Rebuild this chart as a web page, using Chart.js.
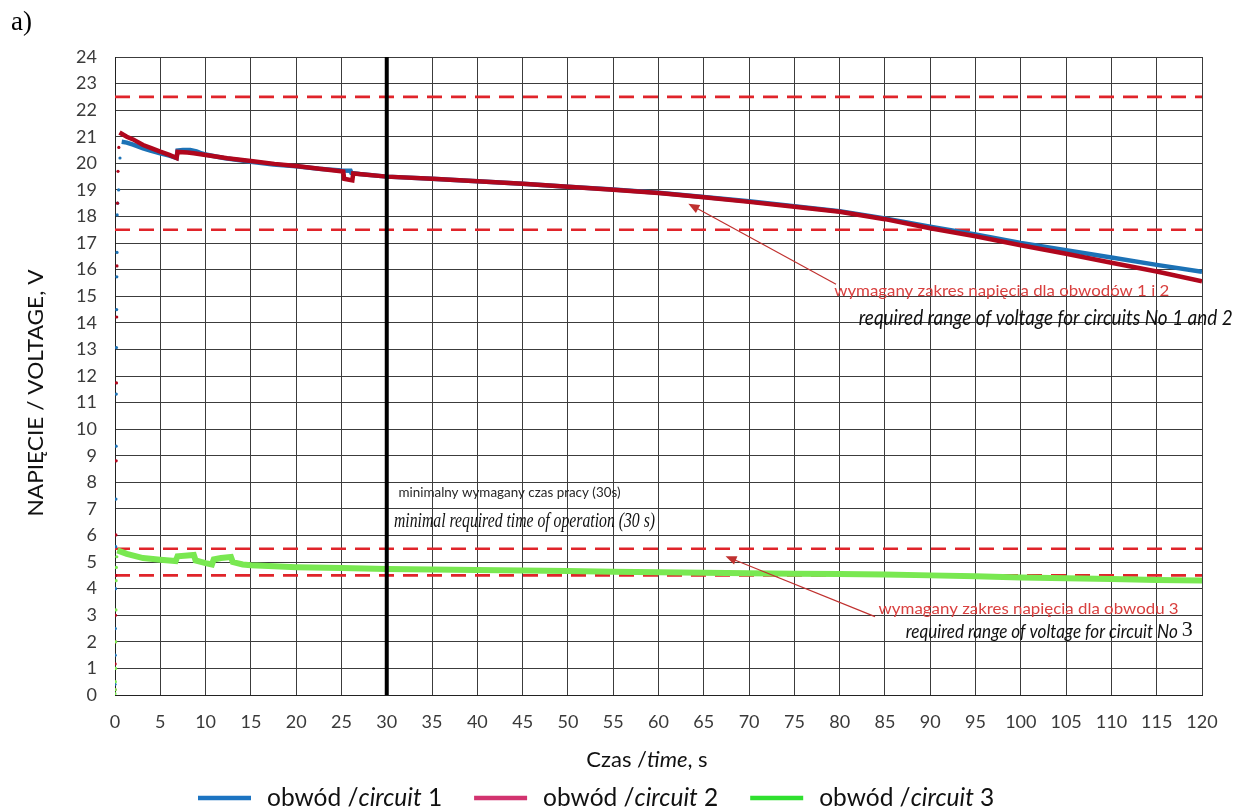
<!DOCTYPE html>
<html>
<head>
<meta charset="utf-8">
<script src="https://cdn.jsdelivr.net/npm/chart.js@4.4.1/dist/chart.umd.min.js"></script>
<style>
  html, body { margin: 0; padding: 0; background: #ffffff; }
  canvas { display: block; }
</style>
</head>
<body>
<canvas id="chart" width="1244" height="812"></canvas>
<script>
// ---------- measured series ----------
// circuit 1: fast start-up samples, then the discharge curve
const c1RiseTime = [0, 0.02, 0.04, 0.06, 0.08, 0.1, 0.12, 0.14, 0.16, 0.18, 0.2, 0.22, 0.24, 0.3, 0.4, 0.55];
const c1RiseVolt = [0.4, 1.5, 2.5, 4.0, 5.58, 7.37, 9.36, 11.32, 13.07, 14.5, 15.73, 16.65, 18.06, 18.5, 19.0, 20.2];
const c1Time = [0.74, 1.3, 2, 3.1, 4, 5, 6, 6.8, 6.9, 7.5, 8.3, 9, 9.6, 10, 12, 15, 17.5, 20, 22.5, 25, 26, 26.1, 27, 30,
                35, 40, 45, 50, 55, 60, 65, 70, 75, 80, 85, 90, 95, 100, 105, 110, 115, 120];
const c1Volt = [20.81, 20.78, 20.70, 20.56, 20.47, 20.38, 20.29, 20.2, 20.48, 20.5, 20.5, 20.45, 20.37, 20.33, 20.2, 20.06, 19.96, 19.89, 19.8, 19.73, 19.72, 19.64, 19.6, 19.5,
                19.42, 19.33, 19.23, 19.12, 19.02, 18.89, 18.73, 18.57, 18.39, 18.2, 17.93, 17.62, 17.32, 17.0, 16.73, 16.46, 16.18, 15.92];

// circuit 2
const c2RiseTime = [0, 0.02, 0.04, 0.06, 0.08, 0.1, 0.13, 0.16, 0.19, 0.22, 0.27, 0.33, 0.42];
const c2RiseVolt = [0.2, 1.17, 2.0, 3.0, 4.5, 6.02, 8.81, 11.74, 14.22, 16.14, 18.5, 19.7, 20.6];
const c2Time = [0.5, 1.3, 2, 3.1, 4, 5, 6, 6.8, 6.9, 8, 8.7, 10, 12.4, 15, 17.6, 20, 22.8, 25.2, 25.3, 26.2, 26.3, 27.2, 30,
                35, 40, 45, 50, 55, 60, 65, 70, 75, 80, 85, 90, 95, 100, 105, 110, 115, 120];
const c2Volt = [21.16, 21.0, 20.9, 20.69, 20.57, 20.44, 20.32, 20.2, 20.43, 20.41, 20.38, 20.31, 20.19, 20.09, 19.98, 19.9, 19.79, 19.69, 19.42, 19.36, 19.62, 19.59, 19.5,
                19.42, 19.33, 19.23, 19.12, 19.01, 18.88, 18.72, 18.55, 18.37, 18.18, 17.9, 17.56, 17.26, 16.92, 16.6, 16.26, 15.93, 15.56];

// circuit 3
const c3RiseTime = [0, 0.02, 0.04, 0.06, 0.08, 0.1, 0.12, 0.15, 0.2];
const c3RiseVolt = [0.05, 0.2, 0.5, 1.0, 2.0, 3.2, 4.3, 4.8, 5.2];
const c3Time = [0.26, 1.3, 3.1, 5, 6.7, 6.9, 8, 8.7, 8.9, 10, 10.7, 10.9, 11.7, 12.8, 13, 14.1, 15, 17.6, 20, 25, 30,
                35, 40, 45, 50, 55, 60, 65, 70, 75, 80, 85, 90, 95, 100, 105, 110, 115, 120];
const c3Volt = [5.44, 5.31, 5.15, 5.09, 5.04, 5.22, 5.25, 5.27, 5.06, 4.96, 4.91, 5.1, 5.15, 5.19, 5.0, 4.91, 4.88, 4.84, 4.81, 4.78, 4.74,
                4.72, 4.7, 4.68, 4.66, 4.64, 4.62, 4.6, 4.58, 4.56, 4.55, 4.53, 4.5, 4.47, 4.42, 4.39, 4.36, 4.33, 4.31];

// required voltage band limits (circuits 1-2 and circuit 3) and minimum operating time
const bandLimits = [22.5, 17.5, 5.5, 4.5];
const minOperatingTime = 30;

// axis ticks
const timeTicks = [0, 5, 10, 15, 20, 25, 30, 35, 40, 45, 50, 55, 60, 65, 70, 75, 80, 85, 90, 95, 100, 105, 110, 115, 120];
const voltTicks = [0, 1, 2, 3, 4, 5, 6, 7, 8, 9, 10, 11, 12, 13, 14, 15, 16, 17, 18, 19, 20, 21, 22, 23, 24];

// ---------- chart ----------
const pts = (ts, vs) => ts.map((t, i) => ({ x: t, y: vs[i] }));
const timeMin = timeTicks[0], timeMax = timeTicks[timeTicks.length - 1];
const voltMin = voltTicks[0], voltMax = voltTicks[voltTicks.length - 1];

const curve = (label, ts, vs, color, width, order) => ({
  label, data: pts(ts, vs), showLine: true, borderColor: color, backgroundColor: color,
  borderWidth: width, pointRadius: 0, tension: 0, order
});
const dots = (label, ts, vs, color, order) => ({
  label, data: pts(ts, vs), showLine: false, backgroundColor: color, borderColor: color,
  pointRadius: 1.6, pointBorderWidth: 0, order
});

const datasets = [
  { label: 'czas minimalny', data: pts([minOperatingTime, minOperatingTime], [voltMin, voltMax]), showLine: true,
    borderColor: '#000000', borderWidth: 4, pointRadius: 0, order: 0 },
  curve('obwód /circuit 3', c3Time, c3Volt, '#79e851', 6, 1),
  curve('obwód /circuit 2', c2Time, c2Volt, '#b0071d', 4.5, 2),
  curve('obwód /circuit 1', c1Time, c1Volt, '#1c72b6', 4.5, 3),
  dots('obwód 3 start', c3RiseTime, c3RiseVolt, '#79e851', 4),
  dots('obwód 2 start', c2RiseTime, c2RiseVolt, '#b0071d', 5),
  dots('obwód 1 start', c1RiseTime, c1RiseVolt, '#1c72b6', 6),
  ...bandLimits.map((v, i) => ({
    label: 'granica ' + v, data: pts([timeMin, timeMax], [v, v]), showLine: true,
    borderColor: '#e0242a', borderWidth: 2.6, borderDash: [15, 9], pointRadius: 0, order: 10 + i
  }))
];

// legend entries drawn under the axis title
const legendItems = [
  { n: '1', color: '#1c74c2' },
  { n: '2', color: '#d2336f' },
  { n: '3', color: '#2fe02f' }
];

// callouts placed in data coordinates
const callouts = [
  { text: 'minimalny wymagany czas pracy (30s)', t: 31.3, v: 7.6, width: 222, font: '14px Lato', color: '#262626' },
  { text: 'minimal required time of operation (30 s)', t: 30.8, v: 6.55, width: 261, font: 'italic 22px "Liberation Serif"', color: '#111111' },
  { text: 'wymagany zakres napięcia dla obwodów 1 i 2', t: 79.4, v: 15.2, width: 335, font: '16px Lato', color: '#d9403f' },
  { text: 'required range of voltage for circuits No 1 and 2', t: 82.1, v: 14.18, width: 374, font: 'italic 21px Lato', color: '#111111' },
  { text: 'wymagany zakres napięcia dla obwodu 3', t: 84.3, v: 3.23, width: 300, font: '16px Lato', color: '#d9403f' },
  { text: 'required range of voltage for circuit No', t: 87.3, v: 2.37, width: 272, font: 'italic 20px Lato', color: '#111111', tail: '3' }
];
const arrows = [
  { from: [79.6, 15.45], to: [63.3, 18.48] },
  { from: [83.9, 2.95], to: [67.4, 5.22] }
];

function fitText(ctx, text, x, y, width, font, color) {
  ctx.save();
  ctx.font = font;
  ctx.fillStyle = color;
  ctx.textBaseline = 'middle';
  ctx.textAlign = 'left';
  const w = ctx.measureText(text).width;
  ctx.translate(x, y);
  ctx.scale(width / w, 1);
  ctx.fillText(text, 0, 0);
  ctx.restore();
}

function runsWidth(ctx, runs) {
  let w = 0;
  runs.forEach(r => { ctx.font = r.font; w += ctx.measureText(r.text).width; });
  return w;
}
function drawRuns(ctx, runs, x, y, color) {
  ctx.save();
  ctx.fillStyle = color;
  ctx.textBaseline = 'middle';
  ctx.textAlign = 'left';
  let cx = x;
  runs.forEach(r => { ctx.font = r.font; ctx.fillText(r.text, cx, y); cx += ctx.measureText(r.text).width; });
  ctx.restore();
  return cx;
}

const decorations = {
  id: 'decorations',
  afterDatasetsDraw(chart) {
    const ctx = chart.ctx;
    const xs = chart.scales.x, ys = chart.scales.y;

    // arrows
    arrows.forEach(a => {
      const x1 = xs.getPixelForValue(a.from[0]), y1 = ys.getPixelForValue(a.from[1]);
      const x2 = xs.getPixelForValue(a.to[0]), y2 = ys.getPixelForValue(a.to[1]);
      const ang = Math.atan2(y2 - y1, x2 - x1);
      ctx.save();
      ctx.strokeStyle = '#c0312f';
      ctx.fillStyle = '#c0312f';
      ctx.lineWidth = 1.2;
      ctx.beginPath(); ctx.moveTo(x1, y1); ctx.lineTo(x2 - 8 * Math.cos(ang), y2 - 8 * Math.sin(ang)); ctx.stroke();
      ctx.beginPath();
      ctx.moveTo(x2, y2);
      ctx.lineTo(x2 - 11 * Math.cos(ang) + 4.5 * Math.sin(ang), y2 - 11 * Math.sin(ang) - 4.5 * Math.cos(ang));
      ctx.lineTo(x2 - 11 * Math.cos(ang) - 4.5 * Math.sin(ang), y2 - 11 * Math.sin(ang) + 4.5 * Math.cos(ang));
      ctx.closePath(); ctx.fill();
      ctx.restore();
    });

    // callout texts
    callouts.forEach(c => {
      const x = xs.getPixelForValue(c.t), y = ys.getPixelForValue(c.v);
      fitText(ctx, c.text, x, y, c.width, c.font, c.color);
      if (c.tail) {
        ctx.save();
        ctx.font = '22px "Liberation Serif"';
        ctx.fillStyle = c.color;
        ctx.textBaseline = 'middle';
        ctx.fillText(c.tail, x + c.width + 4, y - 2);
        ctx.restore();
      }
    });
  },
  afterDraw(chart) {
    const ctx = chart.ctx;

    // panel letter
    ctx.save();
    ctx.font = '27px "Liberation Serif"';
    ctx.fillStyle = '#000';
    ctx.textBaseline = 'middle';
    ctx.fillText('a)', 11, 23);
    ctx.restore();

    // y axis title
    ctx.save();
    ctx.translate(36, 393);
    ctx.rotate(-Math.PI / 2);
    ctx.font = '22px Lato';
    const tw = ctx.measureText('NAPIĘCIE / VOLTAGE, V').width;
    ctx.scale(247 / tw, 1);
    ctx.fillStyle = '#111';
    ctx.textAlign = 'center';
    ctx.textBaseline = 'middle';
    ctx.fillText('NAPIĘCIE / VOLTAGE, V', 0, 0);
    ctx.restore();

    // x axis title
    const xt = [
      { text: 'Czas /', font: '22px Lato' },
      { text: 'time', font: 'italic 22px Lato' },
      { text: ', s', font: '22px Lato' }
    ];
    const xw = runsWidth(ctx, xt);
    drawRuns(ctx, xt, 647 - xw / 2, 760, '#111');

    // legend
    let lx = 198;
    const ly = 798;
    legendItems.forEach(item => {
      ctx.save();
      ctx.strokeStyle = item.color;
      ctx.lineWidth = 4.5;
      ctx.beginPath(); ctx.moveTo(lx, ly); ctx.lineTo(lx + 53, ly); ctx.stroke();
      ctx.restore();
      const runs = [
        { text: 'obwód /', font: '24.5px Lato' },
        { text: 'circuit', font: 'italic 24.5px Lato' },
        { text: ' ' + item.n, font: '24.5px Lato' }
      ];
      const end = drawRuns(ctx, runs, lx + 69, ly, '#111');
      lx = end + 32;
    });
  }
};

new Chart(document.getElementById('chart'), {
  type: 'scatter',
  data: { datasets },
  options: {
    responsive: false,
    animation: false,
    events: [],
    devicePixelRatio: 1,
    layout: { padding: { top: 57, right: 42, left: 0, bottom: 0 } },
    plugins: { legend: { display: false }, tooltip: { enabled: false }, title: { display: false } },
    scales: {
      x: {
        type: 'linear', min: timeMin, max: timeMax,
        afterBuildTicks: s => { s.ticks = timeTicks.map(value => ({ value })); },
        afterFit: s => { s.height = 117; },
        ticks: { font: { family: 'Lato', size: 18 }, color: '#3a3a3a', padding: 16, maxRotation: 0, autoSkip: false },
        grid: { color: '#3c3c3c', lineWidth: 1, drawTicks: false },
        border: { color: '#222', width: 1 }
      },
      y: {
        type: 'linear', min: voltMin, max: voltMax,
        afterBuildTicks: s => { s.ticks = voltTicks.map(value => ({ value })); },
        afterFit: s => { s.width = 115; },
        ticks: { font: { family: 'Lato', size: 18 }, color: '#3a3a3a', padding: 18, autoSkip: false },
        grid: { color: '#3c3c3c', lineWidth: 1, drawTicks: false },
        border: { color: '#222', width: 1 }
      }
    }
  },
  plugins: [decorations]
});
</script>
</body>
</html>
